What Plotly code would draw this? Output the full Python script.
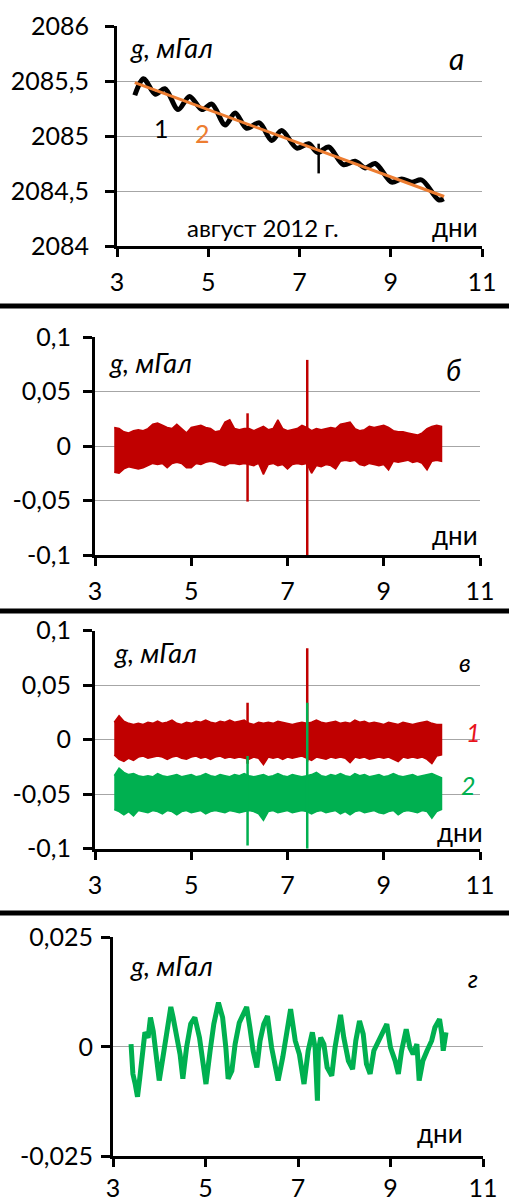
import plotly.graph_objects as go

W, H = 509, 1203
FONT = "Lato"
RED = "#C00000"
GREEN = "#00B050"
ORANGE = "#ED7D31"
GRID = "#A6A6A6"

# ---------------- data ----------------
x_ticks = [3, 5, 7, 9, 11]
x_ticklabels = ["3", "5", "7", "9", "11"]

# panel а: observed gravity (1) and its linear trend (2)
a_t = [3.39, 3.58, 3.84, 4.05, 4.34, 4.59, 4.86, 5.08, 5.37, 5.59, 5.84, 6.12, 6.39, 6.61,
       6.94, 7.20, 7.40, 7.64, 7.96, 8.22, 8.44, 8.66, 9.02, 9.24, 9.46, 9.68, 10.05, 10.16]
a_g = [2085.37, 2085.52, 2085.38, 2085.43, 2085.24, 2085.36, 2085.24, 2085.29, 2085.10, 2085.21,
       2085.07, 2085.12, 2084.96, 2085.05, 2084.89, 2084.93, 2084.85, 2084.90, 2084.74, 2084.77,
       2084.71, 2084.75, 2084.58, 2084.61, 2084.58, 2084.60, 2084.42, 2084.43]
a_spike_t = [7.42]
a_spike_hi = [2084.93]
a_spike_lo = [2084.66]
a_trend_t = [3.39, 10.17]
a_trend_g = [2085.485, 2084.45]
a_yticks = [2084, 2084.5, 2085, 2085.5, 2086]
a_ylabels = ["2084", "2084,5", "2085", "2085,5", "2086"]

# sampling grid for noise envelopes (панели б, в)
band_t = [3.4, 3.5, 3.6, 3.7, 3.8, 3.9, 4.0, 4.1, 4.2, 4.3,
          4.4, 4.5, 4.6, 4.7, 4.8, 4.9, 5.0, 5.1, 5.2, 5.3,
          5.4, 5.5, 5.6, 5.7, 5.8, 5.9, 6.0, 6.1, 6.2, 6.3,
          6.4, 6.5, 6.6, 6.7, 6.8, 6.9, 7.0, 7.1, 7.2, 7.3,
          7.4, 7.5, 7.6, 7.7, 7.8, 7.9, 8.0, 8.1, 8.2, 8.3,
          8.4, 8.5, 8.6, 8.7, 8.8, 8.9, 9.0, 9.1, 9.2, 9.3,
          9.4, 9.5, 9.6, 9.7, 9.8, 9.9, 10.0, 10.1, 10.2]

# panel б: residual noise (upper / lower envelope) and spikes
b_hi = [0.017, 0.016, 0.013, 0.012, 0.014, 0.015, 0.014, 0.016, 0.020, 0.021,
        0.019, 0.017, 0.016, 0.020, 0.016, 0.012, 0.017, 0.018, 0.019, 0.017,
        0.016, 0.013, 0.014, 0.022, 0.024, 0.016, 0.015, 0.016, 0.016, 0.014,
        0.016, 0.018, 0.015, 0.016, 0.024, 0.016, 0.014, 0.015, 0.016, 0.019,
        0.017, 0.014, 0.016, 0.015, 0.016, 0.017, 0.016, 0.020, 0.021, 0.022,
        0.016, 0.014, 0.015, 0.018, 0.017, 0.018, 0.019, 0.017, 0.014, 0.013,
        0.013, 0.012, 0.011, 0.010, 0.012, 0.016, 0.018, 0.019, 0.018]
b_lo = [-0.024, -0.025, -0.021, -0.019, -0.020, -0.021, -0.020, -0.018, -0.016, -0.017,
        -0.016, -0.020, -0.016, -0.015, -0.016, -0.020, -0.020, -0.016, -0.017, -0.015,
        -0.014, -0.015, -0.017, -0.018, -0.016, -0.016, -0.017, -0.016, -0.017, -0.018,
        -0.016, -0.026, -0.017, -0.016, -0.018, -0.017, -0.021, -0.017, -0.016, -0.017,
        -0.016, -0.025, -0.018, -0.019, -0.017, -0.018, -0.021, -0.014, -0.013, -0.014,
        -0.013, -0.017, -0.018, -0.016, -0.017, -0.018, -0.017, -0.022, -0.014, -0.015,
        -0.014, -0.013, -0.015, -0.014, -0.016, -0.022, -0.014, -0.013, -0.014]
b_spike_t = [6.17, 7.41]
b_spike_hi = [0.030, 0.079]
b_spike_lo = [-0.051, -0.100]

# panel в: two residual series (1 red, 2 green)
v_red_hi = [0.016, 0.022, 0.017, 0.015, 0.014, 0.015, 0.014, 0.016, 0.015, 0.017,
            0.015, 0.016, 0.018, 0.015, 0.014, 0.016, 0.015, 0.017, 0.016, 0.018,
            0.016, 0.015, 0.017, 0.016, 0.018, 0.016, 0.017, 0.018, 0.015, 0.014,
            0.016, 0.015, 0.016, 0.015, 0.017, 0.016, 0.015, 0.014, 0.015, 0.016,
            0.015, 0.016, 0.018, 0.016, 0.015, 0.016, 0.017, 0.015, 0.016, 0.015,
            0.018, 0.016, 0.017, 0.015, 0.016, 0.015, 0.014, 0.016, 0.015, 0.014,
            0.016, 0.015, 0.014, 0.015, 0.016, 0.017, 0.015, 0.014, 0.014]
v_red_lo = [-0.014, -0.018, -0.020, -0.017, -0.019, -0.016, -0.015, -0.017, -0.016, -0.015,
            -0.016, -0.018, -0.016, -0.015, -0.017, -0.018, -0.016, -0.015, -0.017, -0.016,
            -0.018, -0.016, -0.015, -0.017, -0.016, -0.017, -0.016, -0.017, -0.018, -0.016,
            -0.017, -0.023, -0.016, -0.017, -0.016, -0.018, -0.016, -0.017, -0.016, -0.015,
            -0.017, -0.019, -0.016, -0.017, -0.018, -0.016, -0.017, -0.016, -0.017, -0.021,
            -0.016, -0.017, -0.016, -0.018, -0.017, -0.016, -0.017, -0.016, -0.018, -0.020,
            -0.016, -0.017, -0.016, -0.017, -0.016, -0.018, -0.022, -0.015, -0.014]
v_grn_hi = [-0.033, -0.026, -0.030, -0.032, -0.031, -0.033, -0.034, -0.033, -0.034, -0.031,
            -0.033, -0.034, -0.033, -0.032, -0.034, -0.033, -0.032, -0.034, -0.033, -0.031,
            -0.033, -0.034, -0.032, -0.033, -0.034, -0.032, -0.033, -0.031, -0.033, -0.034,
            -0.033, -0.032, -0.034, -0.033, -0.031, -0.033, -0.034, -0.032, -0.033, -0.034,
            -0.033, -0.032, -0.030, -0.033, -0.034, -0.032, -0.033, -0.031, -0.033, -0.034,
            -0.031, -0.033, -0.032, -0.034, -0.033, -0.032, -0.034, -0.033, -0.031, -0.033,
            -0.034, -0.033, -0.032, -0.034, -0.033, -0.032, -0.031, -0.033, -0.035]
v_grn_lo = [-0.064, -0.066, -0.069, -0.066, -0.070, -0.065, -0.066, -0.067, -0.065, -0.066,
            -0.068, -0.065, -0.066, -0.069, -0.066, -0.065, -0.067, -0.066, -0.065, -0.068,
            -0.066, -0.065, -0.066, -0.067, -0.065, -0.066, -0.067, -0.066, -0.065, -0.066,
            -0.068, -0.074, -0.066, -0.065, -0.067, -0.066, -0.065, -0.067, -0.066, -0.065,
            -0.066, -0.068, -0.066, -0.065, -0.067, -0.066, -0.065, -0.068, -0.066, -0.069,
            -0.066, -0.065, -0.067, -0.066, -0.065, -0.067, -0.068, -0.066, -0.065, -0.069,
            -0.066, -0.065, -0.066, -0.067, -0.065, -0.066, -0.072, -0.066, -0.064]
v_spike_t = [6.17, 7.41]
v_red_spike_hi = [0.034, 0.084]
v_red_spike_lo = [-0.022, -0.020]
v_grn_spike_hi = [-0.015, 0.034]
v_grn_spike_lo = [-0.097, -0.100]

bv_yticks = [-0.1, -0.05, 0, 0.05, 0.1]
bv_ylabels = ["-0,1", "-0,05", "0", "0,05", "0,1"]

# panel г: difference series
g_t = [3.39, 3.43, 3.48, 3.53, 3.58, 3.64, 3.69, 3.76, 3.81, 3.87,
       3.93, 4.00, 4.09, 4.16, 4.25, 4.30, 4.38, 4.45, 4.51, 4.59,
       4.68, 4.77, 4.87, 4.95, 5.01, 5.10, 5.18, 5.28, 5.37, 5.44,
       5.49, 5.57, 5.64, 5.73, 5.82, 5.89, 5.96, 6.03, 6.11, 6.18,
       6.26, 6.34, 6.43, 6.50, 6.57, 6.67, 6.75, 6.84, 6.94, 7.03,
       7.13, 7.22, 7.31, 7.37, 7.42, 7.44, 7.49, 7.56, 7.63, 7.73,
       7.80, 7.87, 7.92, 7.99, 8.09, 8.18, 8.25, 8.33, 8.41, 8.48,
       8.56, 8.64, 8.74, 8.83, 8.92, 9.00, 9.10, 9.17, 9.24, 9.34,
       9.42, 9.49, 9.57, 9.62, 9.70, 9.79, 9.89, 9.96, 10.06, 10.11,
       10.14, 10.20]
g_v = [0.0006, -0.0062, -0.0085, -0.0114, -0.0070, -0.0017, 0.0033, 0.0021, 0.0067, 0.0036,
       -0.0024, -0.0077, -0.0017, 0.0029, 0.0091, 0.0067, 0.0029, -0.0017, -0.0073, -0.0002,
       0.0052, 0.0067, 0.0021, -0.0039, -0.0085, -0.0009, 0.0052, 0.0101, 0.0067, -0.0002,
       -0.0073, -0.0055, 0.0006, 0.0055, 0.0074, 0.0091, 0.0044, -0.0009, -0.0047, 0.0014,
       0.0052, 0.0070, -0.0002, -0.0047, -0.0077, -0.0024, 0.0029, 0.0086, 0.0014, -0.0017,
       -0.0085, -0.0009, 0.0033, -0.0002, -0.0123, -0.0009, 0.0021, 0.0006, -0.0047, -0.0066,
       -0.0002, 0.0052, 0.0073, 0.0021, -0.0032, -0.0051, 0.0014, 0.0059, 0.0029, -0.0039,
       -0.0062, -0.0009, 0.0014, 0.0036, 0.0052, -0.0002, -0.0032, -0.0062, -0.0009, 0.0040,
       -0.0002, -0.0017, 0.0006, -0.0077, -0.0032, -0.0009, 0.0014, 0.0044, 0.0063, 0.0029,
       -0.0009, 0.0033]
g_yticks = [-0.025, 0, 0.025]
g_ylabels = ["-0,025", "0", "0,025"]

# ---------------- helpers ----------------
def band(t, hi, lo, color, xa, ya):
    return go.Scatter(x=t + t[::-1], y=hi + lo[::-1], mode="lines", fill="toself",
                      fillcolor=color, line=dict(color=color, width=1.5),
                      xaxis=xa, yaxis=ya, hoverinfo="skip", showlegend=False)

def spikes(t, hi, lo, color, xa, ya, width=2.5):
    xs, ys = [], []
    for tt, h, l in zip(t, hi, lo):
        xs += [tt, tt, None]
        ys += [h, l, None]
    return go.Scatter(x=xs, y=ys, mode="lines", line=dict(color=color, width=width),
                      xaxis=xa, yaxis=ya, hoverinfo="skip", showlegend=False)

def px_dom_x(p0, p1):
    return [p0 / W, p1 / W]

def px_dom_y(top, bottom):
    return [1 - bottom / H, 1 - top / H]

def xaxis(dom, anchor, standoff=4):
    return dict(domain=dom, anchor=anchor, range=[3, 11], tickmode="array",
                tickvals=x_ticks, ticktext=x_ticklabels, ticks="outside", ticklen=8,
                tickwidth=2.5, tickcolor="black", showline=True, linecolor="black",
                linewidth=3, showgrid=False, zeroline=False, ticklabelstandoff=standoff,
                automargin=False, fixedrange=True,
                tickfont=dict(family=FONT, size=25, color="black"))

def yaxis(dom, anchor, rng, tv, tt, standoff, size=25):
    return dict(domain=dom, anchor=anchor, range=rng, tickmode="array", tickvals=tv,
                ticktext=tt, ticks="outside", ticklen=9, tickwidth=2.5, tickcolor="black",
                showline=True, linecolor="black", linewidth=3, showgrid=True,
                gridcolor=GRID, gridwidth=1, zeroline=False, ticklabelstandoff=standoff,
                automargin=False, fixedrange=True,
                tickfont=dict(family=FONT, size=size, color="black"))

def ann(text, px, py, xanchor="left", size=25, color="black", italic=False):
    if italic:
        text = "<i>" + text + "</i>"
    return dict(text=text, x=px / W, y=1 - py / H, xref="paper", yref="paper",
                xanchor=xanchor, yanchor="middle", showarrow=False,
                font=dict(family=FONT, size=size, color=color))

# ---------------- figure ----------------
fig = go.Figure()

# а
fig.add_trace(go.Scatter(x=a_t, y=a_g, mode="lines",
                         line=dict(color="black", width=5, shape="spline", smoothing=0.9),
                         xaxis="x", yaxis="y", showlegend=False))
fig.add_trace(spikes(a_spike_t, a_spike_hi, a_spike_lo, "black", "x", "y", width=2.5))
fig.add_trace(go.Scatter(x=a_trend_t, y=a_trend_g, mode="lines", line=dict(color=ORANGE, width=3),
                         xaxis="x", yaxis="y", showlegend=False))
# б
fig.add_trace(band(band_t, b_hi, b_lo, RED, "x2", "y2"))
fig.add_trace(spikes(b_spike_t, b_spike_hi, b_spike_lo, RED, "x2", "y2"))
# в
fig.add_trace(band(band_t, v_red_hi, v_red_lo, RED, "x3", "y3"))
fig.add_trace(spikes(v_spike_t, v_red_spike_hi, v_red_spike_lo, RED, "x3", "y3"))
fig.add_trace(band(band_t, v_grn_hi, v_grn_lo, GREEN, "x3", "y3"))
fig.add_trace(spikes(v_spike_t, v_grn_spike_hi, v_grn_spike_lo, GREEN, "x3", "y3"))
# г
fig.add_trace(go.Scatter(x=g_t, y=g_v, mode="lines", line=dict(color=GREEN, width=5),
                         xaxis="x4", yaxis="y4", showlegend=False))

dom_a_x, dom_a_y = px_dom_x(117, 482), px_dom_y(26, 246)
dom_b_x, dom_b_y = px_dom_x(95, 480), px_dom_y(337, 555)
dom_v_x, dom_v_y = px_dom_x(95, 480), px_dom_y(630.7, 848.7)
dom_g_x, dom_g_y = px_dom_x(113, 483), px_dom_y(937.3, 1156.3)

annotations = [
    ann("g, мГал", 128, 48, italic=True, size=27),
    ann("а", 456, 58, xanchor="center", italic=True, size=30),
    ann("1", 161, 128, xanchor="center", size=25),
    ann("2", 202, 133, xanchor="center", color=ORANGE, size=25),
    ann("август 2012 г.", 185, 227, size=24),
    ann("дни", 430, 227, size=26),

    ann("g, мГал", 107, 362, italic=True, size=27),
    ann("б", 453, 370, xanchor="center", italic=True, size=28),
    ann("дни", 430, 535, size=26),

    ann("g, мГал", 112, 652, italic=True, size=27),
    ann("в", 465, 662, xanchor="center", italic=True, size=25),
    ann("1", 473, 732, xanchor="center", italic=True, color="#E8141C", size=25),
    ann("2", 468, 785, xanchor="center", italic=True, color=GREEN, size=25),
    ann("дни", 435, 832, size=26),

    ann("g, мГал", 128, 966, italic=True, size=27),
    ann("г", 473, 978, xanchor="center", italic=True, size=25),
    ann("дни", 415, 1133, size=26),
]

shapes = [dict(type="line", xref="paper", yref="paper", x0=0, x1=1,
               y0=1 - yy / H, y1=1 - yy / H, line=dict(color="black", width=5))
          for yy in (306, 611, 913)]

fig.update_layout(
    width=W, height=H, margin=dict(l=0, r=0, t=0, b=0, autoexpand=False),
    paper_bgcolor="white", plot_bgcolor="white", showlegend=False,
    xaxis=xaxis(dom_a_x, "y"),
    yaxis=yaxis(dom_a_y, "x", [2084, 2086], a_yticks, a_ylabels, 11),
    xaxis2=xaxis(dom_b_x, "y2"),
    yaxis2=yaxis(dom_b_y, "x2", [-0.1, 0.1], bv_yticks, bv_ylabels, 7),
    xaxis3=xaxis(dom_v_x, "y3"),
    yaxis3=yaxis(dom_v_y, "x3", [-0.1, 0.1], bv_yticks, bv_ylabels, 7),
    xaxis4=xaxis(dom_g_x, "y4", standoff=0),
    yaxis4=yaxis(dom_g_y, "x4", [-0.025, 0.025], g_yticks, g_ylabels, 3),
    annotations=annotations, shapes=shapes,
)

fig.write_html("out.html", config={"displayModeBar": False},
               post_script="document.body.style.margin='0';document.body.style.padding='0';")
